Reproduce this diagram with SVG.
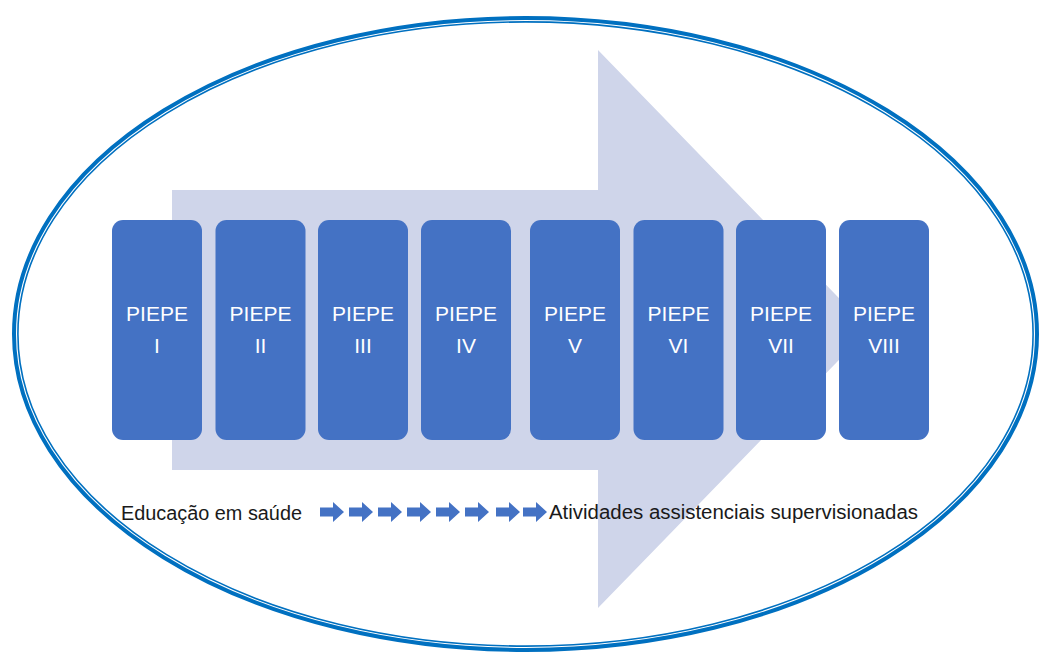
<svg xmlns="http://www.w3.org/2000/svg" width="1059" height="663" viewBox="0 0 1059 663">
<style>
.box{fill:#4472C4;}
.lbl{font-family:"Liberation Sans",Arial,sans-serif;font-size:21px;fill:#FFFFFF;text-anchor:middle;}
.cap{font-family:"Liberation Sans",Arial,sans-serif;font-size:19.5px;fill:#1a1a1a;}
.ring{fill:none;stroke:#0070C0;}
.mini{fill:#4472C4;}
</style>
<defs>
<path id="mini" d="M0,-4.5 H13 V-10 L24,0 L13,10 V4.5 H0 Z"/>
</defs>
<rect width="1059" height="663" fill="#FFFFFF"/>
<g id="ellipse">
<ellipse class="ring" cx="525.5" cy="334" rx="511.5" ry="316" stroke-width="4"/>
<ellipse class="ring" cx="525.5" cy="334" rx="507.6" ry="312.1" stroke-width="1.6"/>
</g>
<g id="big-arrow">
<polygon points="172,190 598,190 598,50 869,329 598,608 598,470 172,470" fill="#CFD5EA"/>
</g>
<g id="node-1"><rect class="box" x="112" y="220" width="90" height="220" rx="11"/><text class="lbl" x="157" y="321">PIEPE</text><text class="lbl" x="157" y="353">I</text></g>
<g id="node-2"><rect class="box" x="215.5" y="220" width="90" height="220" rx="11"/><text class="lbl" x="260.5" y="321">PIEPE</text><text class="lbl" x="260.5" y="353">II</text></g>
<g id="node-3"><rect class="box" x="318" y="220" width="90" height="220" rx="11"/><text class="lbl" x="363" y="321">PIEPE</text><text class="lbl" x="363" y="353">III</text></g>
<g id="node-4"><rect class="box" x="421" y="220" width="90" height="220" rx="11"/><text class="lbl" x="466" y="321">PIEPE</text><text class="lbl" x="466" y="353">IV</text></g>
<g id="node-5"><rect class="box" x="530" y="220" width="90" height="220" rx="11"/><text class="lbl" x="575" y="321">PIEPE</text><text class="lbl" x="575" y="353">V</text></g>
<g id="node-6"><rect class="box" x="633.5" y="220" width="90" height="220" rx="11"/><text class="lbl" x="678.5" y="321">PIEPE</text><text class="lbl" x="678.5" y="353">VI</text></g>
<g id="node-7"><rect class="box" x="736" y="220" width="90" height="220" rx="11"/><text class="lbl" x="781" y="321">PIEPE</text><text class="lbl" x="781" y="353">VII</text></g>
<g id="node-8"><rect class="box" x="839" y="220" width="90" height="220" rx="11"/><text class="lbl" x="884" y="321">PIEPE</text><text class="lbl" x="884" y="353">VIII</text></g>
<g id="connectors">
<use href="#mini" class="mini" x="320" y="512"/>
<use href="#mini" class="mini" x="349" y="512"/>
<use href="#mini" class="mini" x="378" y="512"/>
<use href="#mini" class="mini" x="407" y="512"/>
<use href="#mini" class="mini" x="436" y="512"/>
<use href="#mini" class="mini" x="465" y="512"/>
<use href="#mini" class="mini" x="496" y="512"/>
<use href="#mini" class="mini" x="523" y="512"/>
</g>
<g id="captions">
<text class="cap" x="121" y="520" textLength="181" lengthAdjust="spacingAndGlyphs">Educação em saúde</text>
<text class="cap" x="549" y="519" textLength="369" lengthAdjust="spacingAndGlyphs">Atividades assistenciais supervisionadas</text>
</g>
</svg>
